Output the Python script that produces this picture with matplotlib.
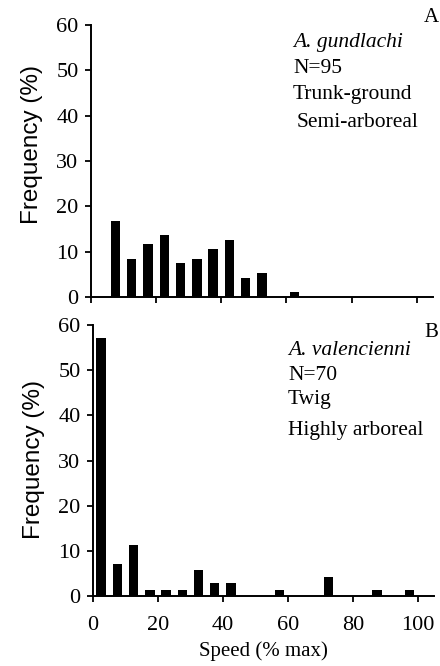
import matplotlib.pyplot as plt
import numpy as np

# bin centres (% max speed) and frequencies (%)
gund_speed = [7.5, 12.5, 17.5, 22.5, 27.5, 32.5, 37.5, 42.5, 47.5, 52.5, 62.5]
gund_freq = [16.8, 8.4, 11.6, 13.7, 7.4, 8.4, 10.5, 12.6, 4.2, 5.3, 1.05]

val_speed = [2.5, 7.5, 12.5, 17.5, 22.5, 27.5, 32.5, 37.5, 42.5, 57.5, 72.5, 87.5, 97.5]
val_freq = [57.1, 7.1, 11.4, 1.43, 1.43, 1.43, 5.7, 2.86, 2.86, 1.43, 4.29, 1.43, 1.43]

x_ticks = [0, 20, 40, 60, 80, 100]
y_ticks = [0, 10, 20, 30, 40, 50, 60]

serif = "Liberation Serif"
sans = "Liberation Sans"

fig = plt.figure(figsize=(4.4, 6.66), dpi=100)
axA = fig.add_axes([91/440, 1-297/666, 342/440, 272/666])
axB = fig.add_axes([93/440, 1-596/666, 341/440, 271/666])

panels = [
    (axA, gund_speed, gund_freq, "A",
     [("A. gundlachi", True, 0), ("N=95", False, 0), ("Trunk-ground", False, 0), ("Semi-arboreal", False, 4)],
     [47, 73, 99, 127], 293, 22, 0.559),
    (axB, val_speed, val_freq, "B",
     [("A. valencienni", True, 0), ("N=70", False, 0), ("Twig", False, 0), ("Highly arboreal", False, 0)],
     [355, 380, 404, 435], 288, 337, 0.502),
]

for ax, xs, ys, letter, lines, baselines, tx, ly, ylab_y in panels:
    ax.bar(xs, ys, width=2.9, color="black", edgecolor="black", linewidth=0)
    ax.set_xlim(0, 105)
    ax.set_ylim(0, 60)
    ax.set_xticks(x_ticks)
    ax.set_yticks(y_ticks)
    for s in ["top", "right"]:
        ax.spines[s].set_visible(False)
    for s in ["left", "bottom"]:
        ax.spines[s].set_linewidth(1.4)
    ax.tick_params(direction="out", length=4, width=1.3, pad=5, labelsize=16)
    ax.tick_params(axis="x", pad=10.5)
    for lab in ax.get_xticklabels() + ax.get_yticklabels():
        lab.set_fontfamily(serif)
    ax.set_ylabel("Frequency (%)", fontsize=17.5, fontfamily=sans)
    ax.yaxis.set_label_coords(-0.14, ylab_y)
    for (txt, ital, dx), by in zip(lines, baselines):
        fig.text((tx + dx)/440, 1-by/666, txt, fontsize=15.5, fontfamily=serif,
                 style="italic" if ital else "normal", ha="left", va="baseline")
    fig.text(424/440, 1-ly/666, letter, fontsize=15, fontfamily=serif, ha="left", va="baseline")

axA.tick_params(labelbottom=False)
axB.set_xlabel("Speed (% max)", fontsize=15, fontfamily=serif, labelpad=4.5)

fig.savefig("out.png", dpi=100)
